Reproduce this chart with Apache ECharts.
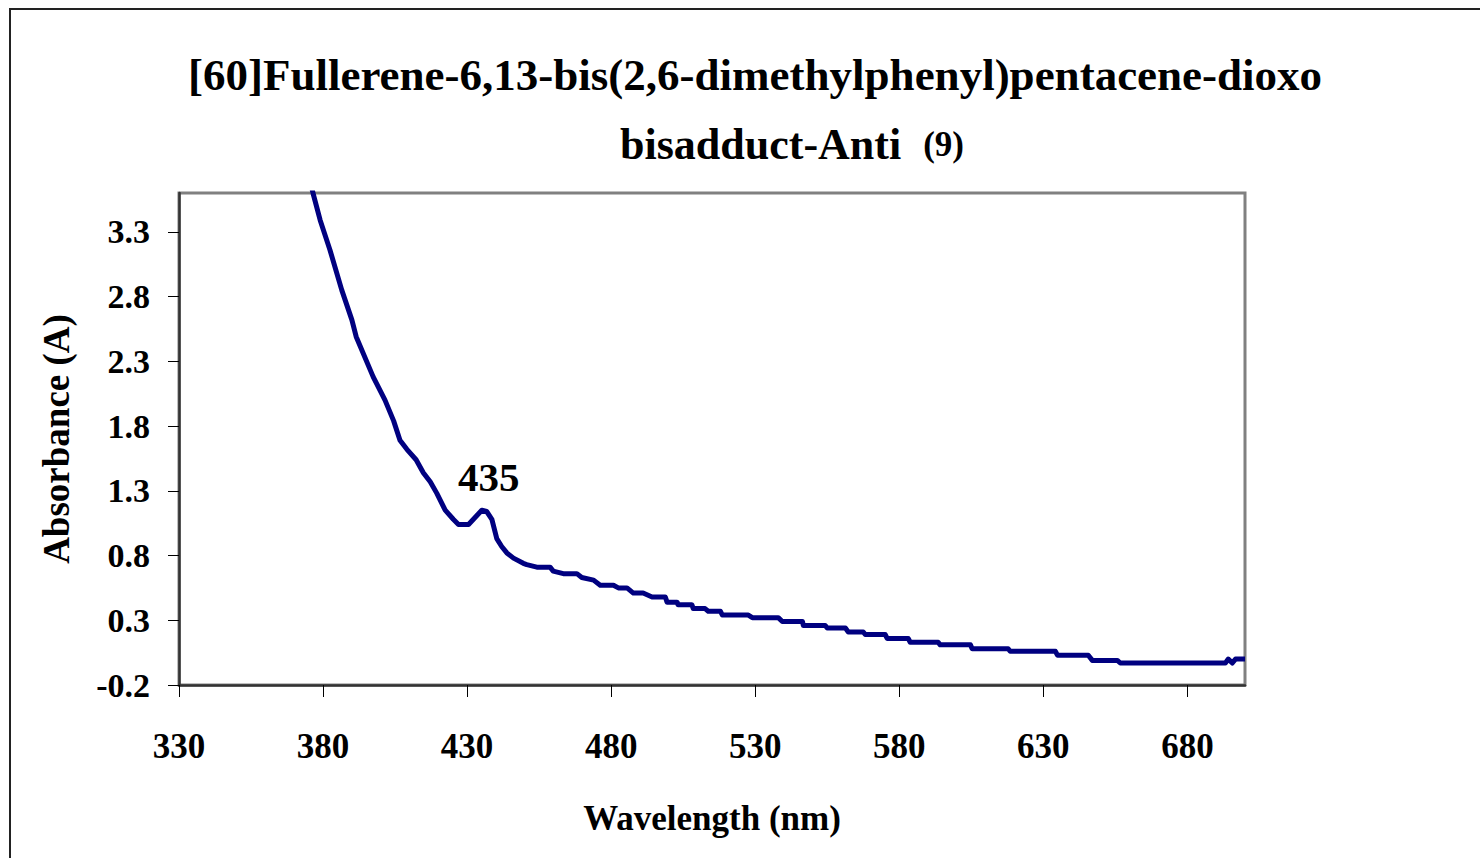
<!DOCTYPE html>
<html>
<head>
<meta charset="utf-8">
<style>
  html, body { margin: 0; padding: 0; background: #fff; }
  #chart { width: 1480px; height: 858px; }
</style>
<script src="https://cdn.jsdelivr.net/npm/echarts@6/dist/echarts.min.js"></script>
</head>
<body>
<div id="chart"></div>
<script>
// ===== UV-Vis spectrum, compound (9) =====
var wavelengths = [
  376.0, 376.5, 379.0, 382.4, 386.5, 390.0, 391.5, 397.4, 401.5, 404.5, 406.7,
  409.1, 412.3, 414.8, 417.2, 419.5, 422.4, 425.2, 427.0, 430.5, 435.1, 436.8,
  438.6, 440.3, 442.0, 443.8, 446.1, 449.5, 450.7, 454.2, 458.8, 459.9, 463.4,
  468.1, 469.8, 473.9, 476.2, 480.8, 482.5, 485.5, 487.7, 491.1, 494.2, 498.8,
  499.4, 502.9, 503.2, 508.0, 508.5, 512.6, 513.7, 517.9, 518.6, 527.6, 529.0,
  538.0, 539.4, 546.4, 546.7, 554.3, 555.0, 561.3, 562.3, 567.5, 568.2, 575.1,
  575.8, 583.1, 583.8, 593.5, 594.2, 604.7, 605.3, 617.8, 618.5, 634.2, 634.9,
  645.6, 647.0, 655.7, 656.7, 693.2, 694.2, 695.6, 696.7, 700.0
];
var absorbance = [
  3.65, 3.60, 3.39, 3.16, 2.85, 2.62, 2.49, 2.18, 2.00, 1.84, 1.69,
  1.62, 1.54, 1.44, 1.37, 1.28, 1.15, 1.08, 1.04, 1.04, 1.15, 1.14,
  1.08, 0.93, 0.87, 0.82, 0.78, 0.74, 0.73, 0.71, 0.71, 0.68, 0.66,
  0.66, 0.63, 0.61, 0.57, 0.57, 0.55, 0.55, 0.51, 0.51, 0.48, 0.48,
  0.44, 0.44, 0.42, 0.42, 0.39, 0.39, 0.37, 0.37, 0.34, 0.34, 0.32,
  0.32, 0.29, 0.29, 0.26, 0.26, 0.24, 0.24, 0.21, 0.21, 0.19, 0.19,
  0.16, 0.16, 0.13, 0.13, 0.11, 0.11, 0.08, 0.08, 0.06, 0.06, 0.03,
  0.03, -0.01, -0.01, -0.03, -0.03, 0.00, -0.03, 0.00, 0.00
];
var peakLabel = { wavelength: 435.1, value: 1.15, text: '435' };
var titleLine1 = '[60]Fullerene-6,13-bis(2,6-dimethylphenyl)pentacene-dioxo';
var titleLine2 = 'bisadduct-Anti';
var titleNote = '(9)';

var serif = "'Liberation Serif', 'Times New Roman', serif";
var navy = '#000080';

var chart = echarts.init(document.getElementById('chart'), null, { renderer: 'svg' });
chart.setOption({
  animation: false,
  backgroundColor: '#fff',
  title: [
    {
      text: titleLine1,
      left: 188, top: 52, padding: 0,
      textStyle: { fontFamily: serif, fontWeight: 'bold', fontSize: 45, color: '#000' }
    },
    {
      text: titleLine2 + '  {s|' + titleNote + '}',
      left: 620, top: 122, padding: 0,
      textStyle: {
        fontFamily: serif, fontWeight: 'bold', fontSize: 44, color: '#000',
        rich: { s: { fontFamily: serif, fontWeight: 'bold', fontSize: 35, color: '#000' } }
      }
    }
  ],
  graphic: [{
    type: 'rect',
    shape: { x: 10, y: 9, width: 1500, height: 900 },
    style: { fill: 'none', stroke: '#222', lineWidth: 2 },
    silent: true
  }],
  grid: {
    left: 179, top: 193, right: 235, bottom: 173,
    show: true, borderColor: '#808080', borderWidth: 3, backgroundColor: 'transparent'
  },
  xAxis: {
    type: 'value',
    min: 330, max: 700, interval: 50,
    name: 'Wavelength (nm)',
    nameLocation: 'middle',
    nameGap: 116,
    nameTextStyle: { fontFamily: serif, fontWeight: 'bold', fontSize: 35, color: '#000' },
    axisLine: { onZero: false, lineStyle: { color: '#333', width: 2.5 } },
    axisTick: { show: true, length: 12, lineStyle: { color: '#000', width: 1 } },
    axisLabel: {
      showMaxLabel: false, margin: 44,
      fontFamily: serif, fontWeight: 'bold', fontSize: 35, color: '#000'
    },
    splitLine: { show: false }
  },
  yAxis: {
    type: 'value',
    min: -0.2, max: 3.6, interval: 0.5,
    name: 'Absorbance (A)',
    nameLocation: 'middle',
    nameGap: 104,
    nameTextStyle: { fontFamily: serif, fontWeight: 'bold', fontSize: 37, color: '#000' },
    axisLine: { onZero: false, lineStyle: { color: '#333', width: 2.5 } },
    axisTick: { show: true, length: 11, lineStyle: { color: '#000', width: 1 } },
    axisLabel: {
      showMaxLabel: false, margin: 29,
      fontFamily: serif, fontWeight: 'bold', fontSize: 34, color: '#000',
      formatter: function(v) { return v.toFixed(1); }
    },
    splitLine: { show: false }
  },
  series: [{
    type: 'line',
    data: wavelengths.map(function(w, i) { return [w, absorbance[i]]; }),
    symbol: 'none',
    clip: true,
    lineStyle: { color: navy, width: 5, join: 'round' },
    markPoint: {
      symbol: 'circle',
      symbolSize: 0,
      silent: true,
      label: {
        show: true,
        offset: [7, -33],
        formatter: peakLabel.text,
        fontFamily: serif, fontWeight: 'bold', fontSize: 41, color: '#000'
      },
      data: [{ coord: [peakLabel.wavelength, peakLabel.value] }]
    }
  }]
});
window.addEventListener('resize', function() { chart.resize(); });
</script>
</body>
</html>
